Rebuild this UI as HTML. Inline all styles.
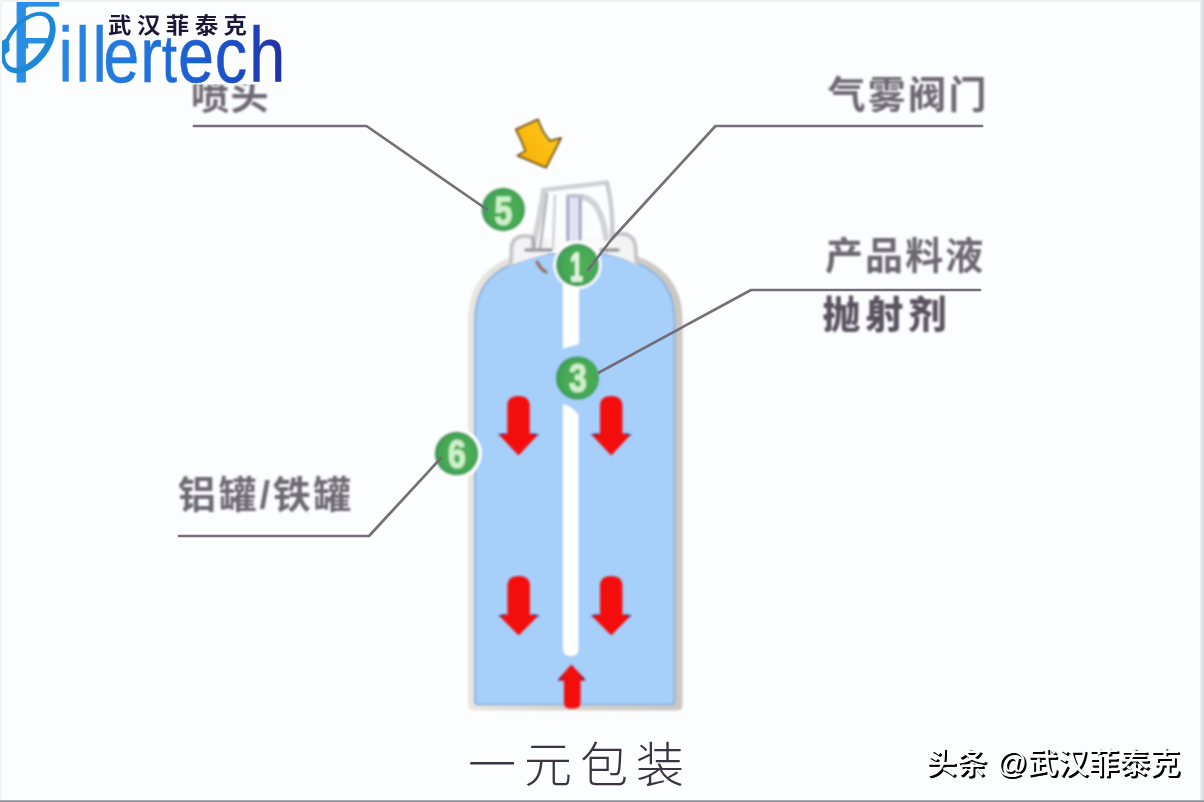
<!DOCTYPE html>
<html lang="zh-CN">
<head>
<meta charset="utf-8">
<title>一元包装</title>
<style>
  html, body { margin: 0; padding: 0; }
  body { width: 1204px; height: 802px; overflow: hidden; background: #fcfdff;
         font-family: "Liberation Sans", "Noto Sans CJK SC", sans-serif; }
  #stage { position: relative; width: 1204px; height: 802px; overflow: hidden; background: #fcfdff; }
  #art { position: absolute; left: 0; top: 0; }
  .lbl { font-family: "Liberation Sans", "Noto Sans CJK SC", sans-serif; font-weight: 700; fill: #6d6771; }
  .lbl.b { font-weight: 900; fill: #5a535e; }
  .wm { position: absolute; left: 926.5px; top: 740.5px; font-size: 30px; line-height: 44px; white-space: nowrap;
        color: #fcfdff; text-shadow: 2px 2px 0 #000, 1.2px 1.6px 0 #000; font-weight: 500; letter-spacing: 0.6px; filter: blur(0.35px); }
  .edge-r { position: absolute; right: 0; top: 0; width: 4px; height: 802px; background: linear-gradient(90deg, #f2f2f4, #dedfe2 60%, #d9dadd); }
  .edge-t { position: absolute; left: 0; top: 0; width: 1204px; height: 1.5px; background: #f2f0f2; }
  .edge-l { position: absolute; left: 0; top: 0; width: 1.5px; height: 802px; background: #f3f4f6; }
  .edge-b { position: absolute; left: 0; bottom: 0; width: 1204px; height: 2.5px; background: linear-gradient(180deg, #dcdde0 0, #a0a2a7 30%, #8b8d92 70%, #8b8d92); }
</style>
</head>
<body>
<div id="stage">
<svg id="art" width="1204" height="802" viewBox="0 0 1204 802">
  <defs>
    <linearGradient id="logoGrad" gradientUnits="userSpaceOnUse" x1="72" y1="0" x2="340" y2="0">
      <stop offset="0" stop-color="#2b86e2"/>
      <stop offset="0.45" stop-color="#1f6fda"/>
      <stop offset="0.8" stop-color="#1c4cc4"/>
      <stop offset="1" stop-color="#2430a6"/>
    </linearGradient>
    <linearGradient id="yel" x1="1" y1="0" x2="0" y2="1">
      <stop offset="0" stop-color="#ffca1c"/>
      <stop offset="1" stop-color="#f6ae06"/>
    </linearGradient>
    <radialGradient id="grn" cx="0.55" cy="0.5" r="0.55">
      <stop offset="0" stop-color="#52b155"/>
      <stop offset="0.7" stop-color="#46a855"/>
      <stop offset="1" stop-color="#3a9c58"/>
    </radialGradient>
    <linearGradient id="rim" gradientUnits="userSpaceOnUse" x1="468" y1="0" x2="682" y2="0">
      <stop offset="0" stop-color="#e9e7e2"/>
      <stop offset="0.5" stop-color="#d6d3cd"/>
      <stop offset="1" stop-color="#cbc7c2"/>
    </linearGradient>
    <clipPath id="logoClip"><path d="M16 -2 H59.2 V6.4 H28.2 V36.8 H47.6 V43.4 H28.2 V83 H16 Z M61.6 -2 H300 V90 H61.6 Z"/></clipPath>
    <filter id="soft" x="-5%" y="-5%" width="110%" height="110%"><feGaussianBlur stdDeviation="0.7"/></filter>
    <filter id="soft3" x="-5%" y="-5%" width="110%" height="110%"><feGaussianBlur stdDeviation="0.9"/></filter>
    <filter id="soft2" x="-5%" y="-5%" width="110%" height="110%"><feGaussianBlur stdDeviation="1.1"/></filter>
  </defs>

  <!-- ===== labels (blurred grey) ===== -->
  <g id="labels" filter="url(#soft3)">
    <text class="lbl" x="191" y="109" font-size="38" letter-spacing="1.5">喷头</text>
    <text class="lbl" x="827.5" y="108" font-size="38" letter-spacing="2.3">气雾阀门</text>
    <text class="lbl" x="825" y="269" font-size="38" letter-spacing="2.1">产品料液</text>
    <text class="lbl b" x="822.5" y="328" font-size="38" letter-spacing="5">抛射剂</text>
    <text class="lbl" x="178" y="508" font-size="38" letter-spacing="2.7">铝罐/铁罐</text>
  </g>

  <!-- ===== can body ===== -->
  <g id="can" filter="url(#soft3)">
    <path d="M468 705 L468 320 C468 290 482 270 506 259.5 C522 253 538 249.5 549 248 L604 248 C615 249.5 630 253 645 259.5 C668 270 682.5 290 682.5 320 L682.5 705 Q682.5 710.5 677 710.5 L473.5 710.5 Q468 710.5 468 705 Z"
          fill="url(#rim)"/>
    <path d="M475 701 L475 321 C475 293 487 275 510 265 C525 259 540 255 550 253.5 L603 253.5 C613 255 627 259 641 265 C663 275 674.5 293 674.5 321 L674.5 701 Q674.5 704.5 671 704.5 L478.5 704.5 Q475 704.5 475 701 Z"
          fill="#a6cffa" stroke="#93b4dc" stroke-width="2.2"/>
    <!-- dip tube -->
    <path d="M563 284 L579 284 L579 344 L563 348.5 Z" fill="#ffffff"/>
    <path d="M563 404 Q573 407 578.5 415 L578.5 649 Q578.5 656 570.8 656 Q563 656 563 649 Z" fill="#ffffff"/>
  </g>

  <!-- ===== valve / actuator sketch ===== -->
  <g id="valve" fill="none" stroke="#c4c5c9" stroke-width="4" stroke-linecap="round" stroke-linejoin="round" filter="url(#soft2)">
    <path d="M509 266 L511 246 C511 238 516 234.5 524 235 L534 238 L548 238 L548 254 C535 257 522 261 509 266 Z M607 254 L607 238 L614 235 C626 232 635 236 635.5 246 L637.5 266 C630 261 620 257 607 254 Z" fill="#f3f3f4" stroke="none"/>
    <path d="M548 238 L606 238 L606 253 L548 253 Z" fill="#fafafb" stroke="none"/>
    <path d="M543 190 L607 182.5" stroke="#cfd0d3" stroke-width="4.5"/>
    <path d="M544 191 C541 212 537 230 533 246" stroke="#d3d3d6" stroke-width="6"/>
    <path d="M547 194 C545 212 542 232 540 250" stroke="#b3b3b9" stroke-width="2.5"/>
    <path d="M555 196 L553 248" stroke="#d6d7da" stroke-width="3"/>
    <path d="M607 183 C612 203 613 222 612 238" stroke="#cbccd0" stroke-width="4.5"/>
    <path d="M582 197 C596 199 603 214 606 238" stroke="#d2d2d7" stroke-width="6"/>
    <path d="M568 196 L568 240" stroke="#a7acc6" stroke-width="3.5"/>
    <path d="M580 198 L580 240" stroke="#a7acc6" stroke-width="3.5"/>
    <path d="M574 199 L574 240" stroke="#dfe3f1" stroke-width="7"/>
    <path d="M568 196 L581 196" stroke="#c0c3d0"/>
    <path d="M532 237 C520 234 512 238 511.5 248 L511 263" stroke="#c6c6c9"/>
    <path d="M614 235 C627 231 635 237 635.5 248 L636.5 263" stroke="#c6c6c9"/>
    <path d="M526 250 L551 250 M601 250 L618 250" stroke="#97979d" stroke-width="3.5"/>
    <path d="M533 238 L534.5 250" stroke="#a5a5ab" stroke-width="3"/>
    <path d="M537 262 C540 268 542 270 546 272" stroke="#9a6a58" stroke-width="3"/>
  </g>

  <!-- ===== numbered markers ===== -->
  <g id="markers" font-family="Liberation Sans, sans-serif" font-weight="700" text-anchor="middle" filter="url(#soft3)"
     stroke-linejoin="round">
    <circle cx="503.3" cy="209.5" r="25" fill="#ffffff"/>
    <circle cx="503.3" cy="209.5" r="22" fill="url(#grn)"/>
    <text transform="translate(503.3,224.8) scale(0.78,1)" font-size="41" fill="#cdf0ca" stroke="#cdf0ca" stroke-width="1.2">5</text>
    <circle cx="577.5" cy="265" r="24.5" fill="#ffffff" opacity="0.85"/>
    <circle cx="577.5" cy="265" r="21.5" fill="url(#grn)"/>
    <text transform="translate(576.6,281) scale(0.56,1)" font-size="40" fill="#dff5dc" stroke="#dff5dc" stroke-width="1.6">1</text>
    <circle cx="577.5" cy="378" r="25.5" fill="#a6cffa"/>
    <circle cx="577.5" cy="378" r="21.8" fill="url(#grn)"/>
    <text transform="translate(577.8,392.3) scale(0.78,1)" font-size="41" fill="#cdf0ca" stroke="#cdf0ca" stroke-width="1.2">3</text>
    <circle cx="456.5" cy="453.6" r="25.5" fill="#ffffff"/>
    <circle cx="456.5" cy="453.6" r="22" fill="url(#grn)"/>
    <text transform="translate(457,468) scale(0.78,1)" font-size="41" fill="#cdf0ca" stroke="#cdf0ca" stroke-width="1.2">6</text>
  </g>

  <!-- ===== leader lines ===== -->
  <g id="leaders" fill="none" opacity="0.96" stroke="#716b74" stroke-width="2.7" stroke-linejoin="round" stroke-linecap="round" filter="url(#soft)">
    <polyline points="194,126 366.5,126 487,209.5"/>
    <polyline points="982,126 715.5,126 611,240 588,270"/>
    <polyline points="980,290 751,290 599,372.5"/>
    <polyline points="179,536 369,536 441,458"/>
  </g>

  <!-- ===== arrows ===== -->
  <g id="arrows" filter="url(#soft3)" stroke-linejoin="round">
    <g fill="#f30c0c" stroke="#f30c0c" stroke-width="2">
      <path d="M508.3 406.0 Q508.3 397.0 518.5 397.0 Q528.7 397.0 528.7 406.0 L528.7 434.5 L536.3 435.0 L518.5 454.0 L500.7 435.0 L508.3 434.5 Z"/>
      <path d="M601.0 406.0 Q601.0 397.0 611.2 397.0 Q621.4 397.0 621.4 406.0 L621.4 434.5 L629.0 435.0 L611.2 454.0 L593.4 435.0 L601.0 434.5 Z"/>
      <path d="M508.5 586.0 Q508.5 577.0 518.7 577.0 Q528.9 577.0 528.9 586.0 L528.9 615.5 L536.5 616.0 L518.7 634.0 L500.9 616.0 L508.5 615.5 Z"/>
      <path d="M601.0 586.0 Q601.0 577.0 611.2 577.0 Q621.4 577.0 621.4 586.0 L621.4 615.5 L629.0 616.0 L611.2 634.0 L593.4 616.0 L601.0 615.5 Z"/>
      <path d="M571.3 666 L584 679.5 L579.5 680 L579.5 702 Q579.5 707.5 574.5 707.5 L569.5 707.5 Q565 707.5 565 702 L565 680 L559.5 679.5 Z"/>
    </g>
    <g fill="none" stroke="#2a2f66" stroke-width="1.8" stroke-linecap="round" opacity="0.6">
      <path d="M499 435 L505 434 M538 435 L532 434 M592 435 L598 434 M630.5 435 L624.5 434"/>
      <path d="M499.5 616 L505.5 615 M538.5 616 L532.5 615 M592 616 L598 615 M630.5 616 L624.5 615"/>
      <path d="M559 680 L563.5 676 M584.5 680 L580 676"/>
    </g>
    <!-- yellow arrow -->
    <path d="M516 129.5 L538 119.5 Q542 132 550 141 L561 138 L546 167.5 L517.5 155.5 L525.5 151 Q522 141 516 129.5 Z" fill="url(#yel)" stroke="#75581a" stroke-width="2"/>
  </g>

  <!-- ===== caption ===== -->
  <text x="468" y="782" font-size="48" letter-spacing="8" font-weight="300" fill="#3b3342"
        font-family="Liberation Sans, Noto Sans CJK SC, sans-serif" filter="url(#soft)">一元包装</text>

  <!-- ===== logo ===== -->
  <rect x="0" y="0" width="292" height="84.5" fill="#fcfdff"/>
  <g id="logo" filter="url(#soft)">
    <g clip-path="url(#logoClip)"><text transform="translate(0,82) scale(0.83,1)" font-family="Liberation Sans, sans-serif" font-size="78"
          fill="url(#logoGrad)" stroke="url(#logoGrad)" stroke-width="0.5" y="0"><tspan x="11.9" font-size="123" fill="#2b8fe4" stroke="#2b8fe4" stroke-width="1.2" textLength="65.5" lengthAdjust="spacingAndGlyphs">F</tspan><tspan x="70.5 91 111.5 124.5 169">iller</tspan><tspan x="195" font-size="66">t</tspan><tspan x="214.5 258.8 300.2">ech</tspan></text></g>
    <g transform="translate(28.5,42.5) rotate(-53)">
      <path fill-rule="evenodd" fill="#1d88d6" d="M-35 0 A35 21.5 0 1 0 35 0 A35 21.5 0 1 0 -35 0 Z M-30.2 -1.3 A30.2 16.2 0 1 1 30.2 -1.3 A30.2 16.2 0 1 1 -30.2 -1.3 Z"/>
    </g>
    <path d="M0 42 L8 37.5 Q10 44 9.5 51 L3 56 Q-1 50 0 42 Z" fill="#1d88d6"/>
    <text transform="translate(108,32.5) scale(1,0.9)" font-size="23.5" font-weight="700" fill="#1e1838" letter-spacing="5.4"
          font-family="Liberation Sans, Noto Sans CJK SC, sans-serif">武汉菲泰克</text>
  </g>
</svg>
<div class="wm">头条 @武汉菲泰克</div>
<div class="edge-t"></div>
<div class="edge-l"></div>
<div class="edge-r"></div>
<div class="edge-b"></div>
</div>
</body>
</html>
